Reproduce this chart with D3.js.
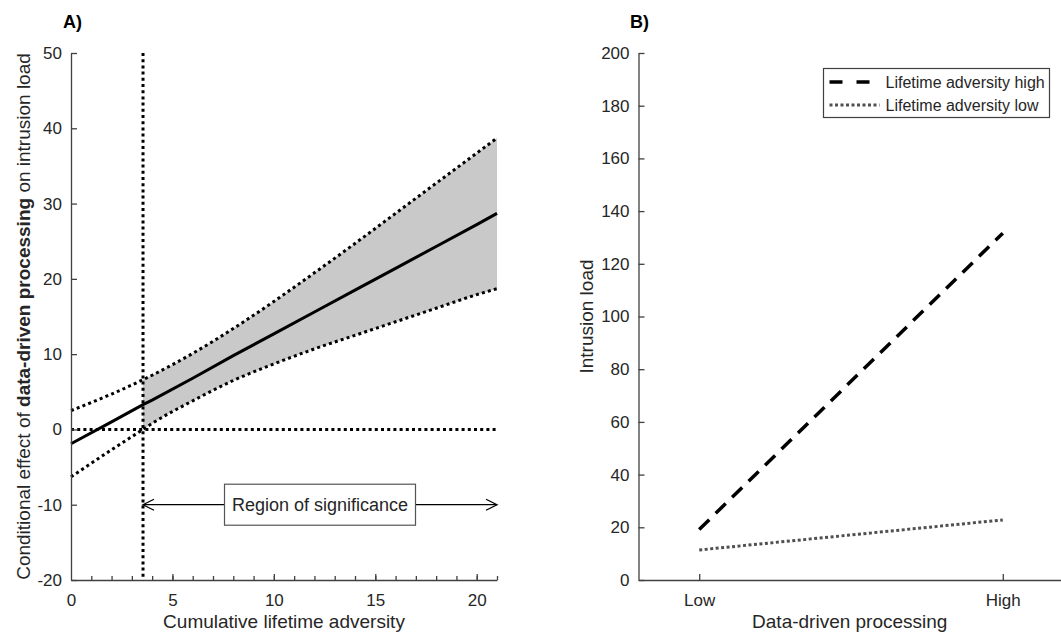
<!DOCTYPE html>
<html>
<head>
<meta charset="utf-8">
<script src="https://cdn.jsdelivr.net/npm/d3@7"></script>
<style>
  body { margin: 0; background: #fff; }
  svg { font-family: "Liberation Sans", Arial, sans-serif; }
  .axis path, .axis line { stroke: #404040; stroke-width: 1.3; }
  .axis text { fill: #262626; font-size: 17px; font-family: "Liberation Sans", Arial, sans-serif; }
</style>
</head>
<body>
<svg width="1061" height="638"></svg>
<script>
// ---- panel A data (Johnson-Neyman plot) ----
var advX     = [0, 2, 3.55, 4, 6, 8, 10, 12, 14, 16, 18, 20, 21];
var effect   = [-1.9, 1.0, 3.3, 3.9, 6.8, 9.8, 12.7, 15.6, 18.5, 21.4, 24.3, 27.2, 28.7];
var ciUpper  = [2.5, 4.7, 6.6, 7.2, 10.1, 13.4, 17.0, 20.8, 24.7, 28.7, 32.7, 36.7, 38.7];
var ciLower  = [-6.3, -2.7, 0.0, 0.8, 3.8, 6.5, 8.7, 10.7, 12.5, 14.3, 16.1, 17.9, 18.7];
var jnPoint  = 3.55;
var yTicksA  = [-20, -10, 0, 10, 20, 30, 40, 50];
var xTicksA  = [0, 5, 10, 15, 20];

// ---- panel B data (simple slopes) ----
var levels   = ["Low", "High"];
var highAdv  = [19.2, 131.6];
var lowAdv   = [11.4, 22.8];
var seriesB  = ["Lifetime adversity high", "Lifetime adversity low"];
var yTicksB  = [0, 20, 40, 60, 80, 100, 120, 140, 160, 180, 200];

var svg = d3.select("svg");
var textCol = "#262626";
var plain = function(d) { return String(d); }; // hyphen minus like the original

// ================= panel A =================
var xA = d3.scaleLinear().domain([0, 21]).range([71, 497]);
var yA = d3.scaleLinear().domain([-20, 50]).range([580, 53]);

var rowsA = advX.map(function(x, i) {
  return { x: x, y: effect[i], hi: ciUpper[i], lo: ciLower[i] };
});
var sigRows = rowsA.filter(function(d) { return d.x >= jnPoint; });

// shaded region of significance
svg.append("path")
  .datum(sigRows)
  .attr("fill", "#c9c9c9")
  .attr("d", d3.area().curve(d3.curveMonotoneX)
    .x(function(d) { return xA(d.x); })
    .y0(function(d) { return yA(d.lo); })
    .y1(function(d) { return yA(d.hi); }));

var dotted = "3,3.2";

// zero line + JN line
svg.append("line")
  .attr("x1", xA(0)).attr("x2", xA(21))
  .attr("y1", yA(0)).attr("y2", yA(0))
  .attr("stroke", "#000").attr("stroke-width", 3).attr("stroke-dasharray", dotted);
svg.append("line")
  .attr("x1", xA(jnPoint)).attr("x2", xA(jnPoint))
  .attr("y1", yA(50)).attr("y2", yA(-20))
  .attr("stroke", "#000").attr("stroke-width", 3).attr("stroke-dasharray", dotted);

// CI bounds
["hi", "lo"].forEach(function(k) {
  svg.append("path")
    .datum(rowsA)
    .attr("fill", "none").attr("stroke", "#000")
    .attr("stroke-width", 3).attr("stroke-dasharray", dotted)
    .attr("d", d3.line().curve(d3.curveMonotoneX)
      .x(function(d) { return xA(d.x); })
      .y(function(d) { return yA(d[k]); }));
});

// conditional effect
svg.append("path")
  .datum(rowsA)
  .attr("fill", "none").attr("stroke", "#000").attr("stroke-width", 3)
  .attr("d", d3.line()
    .x(function(d) { return xA(d.x); })
    .y(function(d) { return yA(d.y); }));

// axes A
var yAxisA = d3.axisLeft(yA).tickValues(yTicksA).tickFormat(plain)
  .tickSizeInner(-6).tickSizeOuter(0).tickPadding(9);
svg.append("g").attr("class", "axis")
  .attr("transform", "translate(" + xA(0) + ",0)")
  .call(yAxisA);

var xAxisA = d3.axisBottom(xA).tickValues(d3.range(1, 22)).tickSizeInner(-4).tickSizeOuter(0)
  .tickFormat(function() { return ""; });
svg.append("g").attr("class", "axis")
  .attr("transform", "translate(0," + yA(-20) + ")")
  .call(xAxisA);
svg.append("g").attr("class", "axis")
  .attr("transform", "translate(0," + yA(-20) + ")")
  .call(d3.axisBottom(xA).tickValues(xTicksA).tickFormat(plain)
    .tickSizeInner(-6).tickSizeOuter(0).tickPadding(14))
  .call(function(g) {
    g.select(".domain").remove();
    g.selectAll(".tick").filter(function(d) { return d === 0; }).select("line").remove();
  });

// region of significance arrow
var arrowY = yA(-10);
svg.append("line")
  .attr("x1", xA(jnPoint)).attr("x2", xA(21))
  .attr("y1", arrowY).attr("y2", arrowY)
  .attr("stroke", "#000").attr("stroke-width", 1.3);
[[xA(jnPoint), 1], [xA(21), -1]].forEach(function(a) {
  svg.append("path")
    .attr("d", "M" + (a[0] + a[1] * 11) + "," + (arrowY - 5.5) + "L" + a[0] + "," + arrowY + "L" + (a[0] + a[1] * 11) + "," + (arrowY + 5.5))
    .attr("fill", "none").attr("stroke", "#000").attr("stroke-width", 1.3);
});
var boxCx = (xA(jnPoint) + xA(21)) / 2;
svg.append("rect")
  .attr("x", boxCx - 95.5).attr("y", arrowY - 20.5)
  .attr("width", 191).attr("height", 41)
  .attr("fill", "#fff").attr("stroke", "#555").attr("stroke-width", 1.2);
svg.append("text")
  .attr("x", boxCx).attr("y", arrowY + 6.5)
  .attr("text-anchor", "middle").attr("font-size", 18).attr("fill", textCol)
  .text("Region of significance");

// labels A
svg.append("text")
  .attr("x", xA(10.5)).attr("y", 628)
  .attr("text-anchor", "middle").attr("font-size", 19).attr("fill", textCol)
  .text("Cumulative lifetime adversity");
var yLabA = svg.append("text")
  .attr("transform", "translate(30," + ((yA(50) + yA(-20)) / 2) + ") rotate(-90)")
  .attr("text-anchor", "middle").attr("font-size", 19).attr("fill", textCol);
yLabA.append("tspan").text("Conditional effect of ");
yLabA.append("tspan").attr("font-weight", "bold").text("data-driven processing");
yLabA.append("tspan").text(" on intrusion load");
svg.append("text")
  .attr("x", 63).attr("y", 28)
  .attr("font-size", 18).attr("font-weight", "bold").attr("fill", "#000")
  .text("A)");

// ================= panel B =================
var xB = d3.scalePoint().domain(levels).range([638.5, 1063.5]).padding(0.2);
var yB = d3.scaleLinear().domain([0, 200]).range([580, 53]);

var lineB = d3.line()
  .x(function(d) { return xB(d.level); })
  .y(function(d) { return yB(d.v); });
var rowsHigh = levels.map(function(l, i) { return { level: l, v: highAdv[i] }; });
var rowsLow  = levels.map(function(l, i) { return { level: l, v: lowAdv[i] }; });

var styleB = [
  { rows: rowsHigh, color: "#000", width: 3.5, dash: "14,9" },
  { rows: rowsLow,  color: "#505050", width: 3, dash: "3,2.5" }
];
styleB.forEach(function(s) {
  svg.append("path").datum(s.rows)
    .attr("fill", "none").attr("stroke", s.color)
    .attr("stroke-width", s.width).attr("stroke-dasharray", s.dash)
    .attr("d", lineB);
});

svg.append("g").attr("class", "axis")
  .attr("transform", "translate(638.5,0)")
  .call(d3.axisLeft(yB).tickValues(yTicksB).tickFormat(plain)
    .tickSizeInner(-6).tickSizeOuter(0).tickPadding(9));
svg.append("g").attr("class", "axis")
  .attr("transform", "translate(0," + yB(0) + ")")
  .call(d3.axisBottom(xB).tickSizeInner(-6).tickSizeOuter(0).tickPadding(14));

svg.append("text")
  .attr("x", (638.5 + 1061) / 2).attr("y", 628)
  .attr("text-anchor", "middle").attr("font-size", 19).attr("fill", textCol)
  .text("Data-driven processing");
svg.append("text")
  .attr("transform", "translate(593," + ((yB(0) + yB(200)) / 2) + ") rotate(-90)")
  .attr("text-anchor", "middle").attr("font-size", 19).attr("fill", textCol)
  .text("Intrusion load");
svg.append("text")
  .attr("x", 630).attr("y", 28)
  .attr("font-size", 18).attr("font-weight", "bold").attr("fill", "#000")
  .text("B)");

// legend
var leg = svg.append("g").attr("transform", "translate(823.5,68.5)");
leg.append("rect").attr("width", 226).attr("height", 49)
  .attr("fill", "#fff").attr("stroke", "#404040").attr("stroke-width", 1.2);
seriesB.forEach(function(name, i) {
  var s = styleB[i];
  var yy = 13.5 + i * 23;
  leg.append("line")
    .attr("x1", 6).attr("x2", i === 0 ? 46 : 56).attr("y1", yy).attr("y2", yy)
    .attr("stroke", s.color).attr("stroke-width", s.width)
    .attr("stroke-dasharray", i === 0 ? "13,14" : s.dash);
  leg.append("text")
    .attr("x", 62).attr("y", yy + 5.5)
    .attr("font-size", 16).attr("fill", textCol)
    .text(name);
});
</script>
</body>
</html>
